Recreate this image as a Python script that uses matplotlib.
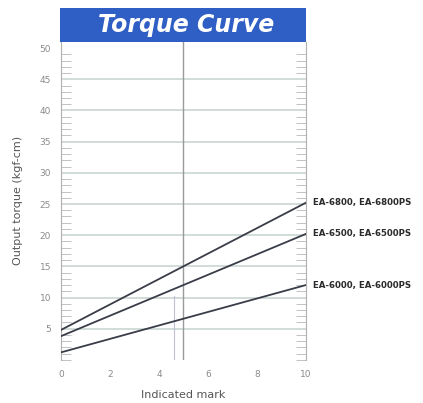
import numpy as np
from matplotlib import pyplot as plt
from matplotlib.patches import Rectangle

# indicated mark vs output torque (kgf-cm)
marks = [0, 10]
torque_6800 = [4.8, 25.2]
torque_6500 = [3.8, 20.2]
torque_6000 = [1.2, 12.0]
series_labels = ['EA-6800, EA-6800PS', 'EA-6500, EA-6500PS', 'EA-6000, EA-6000PS']
xticks = [0, 2, 4, 6, 8, 10]
yticks = [5, 10, 15, 20, 25, 30, 35, 40, 45, 50]

fig = plt.figure(figsize=(4.23, 4.03), dpi=100)
ax = fig.add_axes([0.144, 0.107, 0.579, 0.789])

for y in yticks[:-1]:
    ax.axhline(y, color='#c9d6d2', lw=1.2, zorder=1)
ax.axvline(5, color='#9a9a9a', lw=1.0, zorder=1)
ax.axvline(4.6, ymin=0, ymax=0.2, color='#c0c0d8', lw=0.8, zorder=1)

line_color = '#3a3d48'
for ys, lab in zip([torque_6800, torque_6500, torque_6000], series_labels):
    ax.plot(marks, ys, color=line_color, lw=1.3, zorder=3)
    ax.annotate(lab, xy=(marks[-1], ys[-1]), xytext=(5, 0), textcoords='offset points',
                va='center', ha='left', fontsize=6.2, color='#2a2a2a',
                fontweight='semibold', annotation_clip=False)

ax.set_xlim(0, 10)
ax.set_ylim(0, 51)
ax.set_xticks(xticks)
ax.set_yticks(yticks)
ax.set_yticks(np.arange(0, 51, 1), minor=True)
ax.tick_params(axis='both', labelsize=6.5, colors='#8a8a8a', length=0, pad=7)
ax.tick_params(axis='y', which='minor', direction='in', length=7, color='#b8b8b8',
               left=True, right=True)
for s in ['top', 'bottom']:
    ax.spines[s].set_visible(False)
for s in ['left', 'right']:
    ax.spines[s].set_color('#b0b0b0')
    ax.spines[s].set_linewidth(0.8)

ax.set_xlabel('Indicated mark', fontsize=8, color='#555555', labelpad=8)
ax.set_ylabel('Output torque (kgf-cm)', fontsize=8, color='#555555', labelpad=12)

# title banner
fig.patches.append(Rectangle((0.142, 0.896), 0.582, 0.084, transform=fig.transFigure,
                             facecolor='#2f5fc4', edgecolor='none'))
fig.text(0.440, 0.938, 'Torque Curve', ha='center', va='center', color='white',
         fontsize=17, fontweight='bold', fontstyle='italic')

fig.savefig('out.png', dpi=100)
